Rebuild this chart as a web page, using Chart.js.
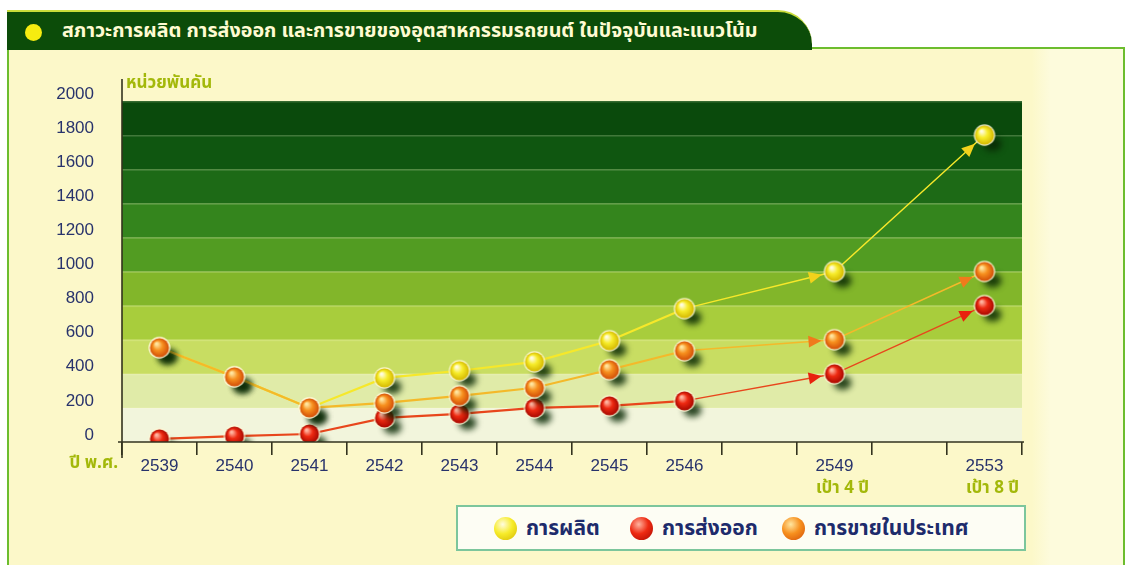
<!DOCTYPE html>
<html lang="th">
<head>
<meta charset="utf-8">
<title>สภาวะการผลิต การส่งออก และการขายของอุตสาหกรรมรถยนต์</title>
<script src="https://cdn.jsdelivr.net/npm/chart.js@4.4.0/dist/chart.umd.min.js"></script>
<style>
  body { margin: 0; width: 1128px; height: 565px; overflow: hidden; background: #ffffff; position: relative;
         font-family: "Noto Sans Thai", "Noto Sans", "DejaVu Sans", sans-serif; }
  #frame { position: absolute; left: 7px; top: 47px; width: 1114px; height: 530px;
           background: linear-gradient(to right, #fcf8c9 0%, #fcf8c9 91.8%, #fdfbdc 93.5%, #fdfbdc 100%);
           border: 2px solid #6cbd2e; border-bottom: none; }
  #tab { position: absolute; left: 7px; top: 10px; width: 805px; height: 38px; background: #0c4c09;
         border-top: 2px solid #c9dc3a; border-top-right-radius: 34px; }
  #dot { position: absolute; left: 25px; top: 24px; width: 17px; height: 17px; border-radius: 50%; background: #f6ec10; }
  #title { position: absolute; left: 62px; top: 17px; color: #fffbd2; font-size: 19px; font-weight: bold;
           white-space: nowrap; transform-origin: left center; }
  #chart { position: absolute; left: 0; top: 0; }
  #legend { position: absolute; left: 456px; top: 505px; width: 566px; height: 42px; background: #fdfdf4;
            border: 2px solid #7cc69c; }
  .item { position: absolute; top: 6px; display: flex; align-items: center; font-size: 21px; font-weight: bold; color: #1d2b6c; }
  .ball { width: 23px; height: 23px; border-radius: 50%; margin-right: 9px; }
</style>
</head>
<body>
<div id="frame"></div>
<div id="tab"></div>
<div id="dot"></div>
<div id="title">สภาวะการผลิต การส่งออก และการขายของอุตสาหกรรมรถยนต์ ในปัจจุบันและแนวโน้ม</div>
<canvas id="chart" width="1128" height="565"></canvas>
<div id="legend">
  <div class="item" style="left:36px"><span class="ball" style="background:radial-gradient(circle at 38% 32%, #fffce0 0%, #f7ec2a 45%, #d4b800 100%)"></span>การผลิต</div>
  <div class="item" style="left:172px"><span class="ball" style="background:radial-gradient(circle at 38% 32%, #ffb4a0 0%, #ee2a12 45%, #a80800 100%)"></span>การส่งออก</div>
  <div class="item" style="left:324px"><span class="ball" style="background:radial-gradient(circle at 38% 32%, #ffe6a0 0%, #f7901e 45%, #d24e08 100%)"></span>การขายในประเทศ</div>
</div>

<script>
// ปี พ.ศ. (ช่องว่างคือปีที่ไม่มีข้อมูล)
const years = ['2539', '2540', '2541', '2542', '2543', '2544', '2545', '2546', '', '2549', '', '2553'];
// หน่วยพันคัน
const production = [553, 382, 200, 376, 418, 470, 594, 782, null, 1000, null, 1800];
const exports = [18, 35, 47, 141, 165, 200, 212, 241, null, 400, null, 800];
const domestic = [553, 382, 200, 229, 271, 318, 424, 535, null, 600, null, 1000];
const yTicks = [0, 200, 400, 600, 800, 1000, 1200, 1400, 1600, 1800, 2000];
// เป้าหมาย
const targetNotes = { '2549': 'เป้า 4 ปี', '2553': 'เป้า 8 ปี' };

const bandColors = ['#f2f5dc', '#e0eba8', '#c8dd62', '#a8cd3c', '#82b62a', '#529c22', '#34851d', '#1d6a16', '#0f5610', '#0a4a0c'];
const navy = '#28336c';
const olive = '#a3b80a';
const numFont = { size: 17, family: '"Liberation Sans Narrow", "Liberation Sans", sans-serif' };

// ลูกบอลพร้อมเงา ใช้เป็นจุดของกราฟ
function makeBall(light, mid, dark) {
  const c = document.createElement('canvas');
  c.width = 48; c.height = 48;
  const g = c.getContext('2d');
  const cx = 24, cy = 24, r = 9.5;
  g.filter = 'blur(3px)';
  g.fillStyle = 'rgba(8,40,4,0.85)';
  g.beginPath(); g.ellipse(cx + 8, cy + 9, 9, 7, 0, 0, Math.PI * 2); g.fill();
  g.filter = 'none';
  g.fillStyle = 'rgba(255,250,215,0.9)';
  g.beginPath(); g.arc(cx, cy, r + 1.2, 0, Math.PI * 2); g.fill();
  const grad = g.createRadialGradient(cx - 3, cy - 4, 1, cx, cy, r);
  grad.addColorStop(0, light); grad.addColorStop(0.45, mid); grad.addColorStop(1, dark);
  g.fillStyle = grad;
  g.beginPath(); g.arc(cx, cy, r, 0, Math.PI * 2); g.fill();
  return c;
}
const yellowBall = makeBall('#fffce0', '#f7ec2a', '#d4b800');
const redBall = makeBall('#ffb4a0', '#ee2a12', '#a80800');
const orangeBall = makeBall('#ffe6a0', '#f7901e', '#d24e08');

// แถบสีพื้นหลังทุก 200
const bands = {
  id: 'bands',
  beforeDatasetsDraw(chart) {
    const { ctx, chartArea: a, scales: { y } } = chart;
    ctx.save();
    for (let i = 0; i < bandColors.length; i++) {
      const y0 = y.getPixelForValue(i * 200), y1 = y.getPixelForValue((i + 1) * 200);
      ctx.fillStyle = bandColors[i];
      ctx.fillRect(a.left, y1, a.right - a.left, y0 - y1);
      ctx.fillStyle = 'rgba(255,255,220,0.18)';
      ctx.fillRect(a.left, y1, a.right - a.left, 1.5);
    }
    ctx.restore();
  }
};

// หัวลูกศรที่ปลายเส้นคาดการณ์
const arrows = {
  id: 'arrows',
  afterDatasetsDraw(chart) {
    const ctx = chart.ctx;
    chart.data.datasets.forEach((ds, i) => {
      const pts = chart.getDatasetMeta(i).data;
      [[7, 9], [9, 11]].forEach(([from, to]) => {
        const a = pts[from], b = pts[to];
        const ang = Math.atan2(b.y - a.y, b.x - a.x);
        ctx.save();
        ctx.translate(b.x - Math.cos(ang) * 13, b.y - Math.sin(ang) * 13);
        ctx.rotate(ang);
        ctx.beginPath();
        ctx.moveTo(0, 0); ctx.lineTo(-13, -6); ctx.lineTo(-13, 6); ctx.closePath();
        ctx.fillStyle = ds.arrowColor;
        ctx.fill();
        ctx.restore();
      });
    });
  }
};

// เส้นแกนและข้อความประกอบ
const extras = {
  id: 'extras',
  afterDraw(chart) {
    const { ctx, chartArea: a, scales: { x } } = chart;
    ctx.save();
    ctx.strokeStyle = '#33331f';
    ctx.lineWidth = 1.6;
    ctx.beginPath();
    ctx.moveTo(a.left, a.top - 22); ctx.lineTo(a.left, a.bottom + 16);
    ctx.moveTo(a.left - 4, a.bottom); ctx.lineTo(a.right + 2, a.bottom);
    ctx.stroke();

    ctx.font = 'bold 17px "Noto Sans Thai", "Noto Sans", sans-serif';
    ctx.fillStyle = olive;
    ctx.textBaseline = 'middle';
    ctx.textAlign = 'left';
    ctx.fillText('หน่วยพันคัน', a.left + 4, a.top - 16);
    ctx.textAlign = 'right';
    ctx.fillText('ปี พ.ศ.', a.left - 4, a.bottom + 23);
    ctx.textAlign = 'center';
    years.forEach((yr, i) => {
      if (targetNotes[yr]) ctx.fillText(targetNotes[yr], x.getPixelForValue(i) + 8, a.bottom + 48);
    });
    ctx.restore();
  }
};

const ctx = document.getElementById('chart').getContext('2d');
new Chart(ctx, {
  type: 'line',
  data: {
    labels: years,
    datasets: [
      {
        label: 'การขายในประเทศ',
        data: domestic,
        order: 0,
        borderColor: '#f4b92a',
        arrowColor: '#f07a1c',
        pointStyle: orangeBall
      },
      {
        label: 'การผลิต',
        data: production,
        order: 1,
        borderColor: '#f6e82a',
        arrowColor: '#f2d21c',
        pointStyle: yellowBall
      },
      {
        label: 'การส่งออก',
        data: exports,
        order: 2,
        borderColor: '#e8461c',
        arrowColor: '#e8220e',
        pointStyle: redBall
      }
    ]
  },
  options: {
    responsive: false,
    animation: false,
    spanGaps: true,
    layout: { padding: { left: 52, top: 101, right: 106, bottom: 63 } },
    elements: {
      line: { borderWidth: 2.2, tension: 0 },
      point: { radius: 10 }
    },
    datasets: {
      line: {
        segment: {
          borderWidth: c => (c.p0DataIndex >= 7 ? 1.4 : 2.2)
        }
      }
    },
    plugins: { legend: { display: false }, tooltip: { enabled: false } },
    scales: {
      x: {
        offset: true,
        afterFit: s => { s.height = 60; },
        border: { display: false },
        grid: { drawOnChartArea: false, tickLength: 13, color: '#33331f', lineWidth: 1.6, offset: true },
        ticks: { color: navy, padding: 1, maxRotation: 0, autoSkip: false, font: numFont }
      },
      y: {
        min: 0,
        max: 2000,
        afterFit: s => { s.width = 70; },
        afterBuildTicks: s => { s.ticks = yTicks.map(v => ({ value: v })); },
        border: { display: false },
        grid: { display: false },
        ticks: { color: navy, padding: 20, labelOffset: -7, font: numFont, callback: v => String(v) }
      }
    }
  },
  plugins: [bands, arrows, extras]
});

// ความกว้างหัวเรื่องให้พอดีแถบ
const title = document.getElementById('title');
title.style.transform = 'scaleX(' + (696 / title.offsetWidth) + ')';
</script>
</body>
</html>
